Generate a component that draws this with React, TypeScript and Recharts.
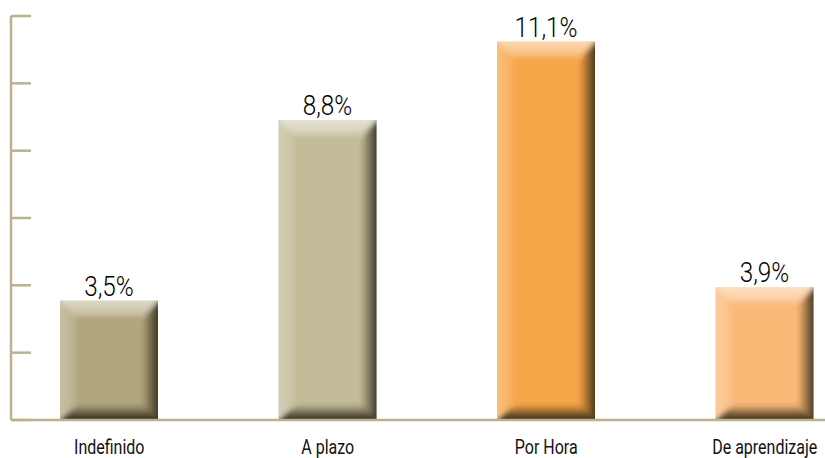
import React from "react"
import { BarChart, Bar, XAxis, YAxis, LabelList } from "recharts"

const categories = ["Indefinido", "A plazo", "Por Hora", "De aprendizaje"]
const values = [3.5, 8.8, 11.1, 3.9]
const barColors = ["#b1a77e", "#c2bc98", "#f8a64a", "#fbb978"]

// unlabelled axis marks, 6 equal steps up to the top of the scale
const yTicks = [0, 1.975, 3.95, 5.925, 7.9, 9.875, 11.85]

const AXIS = "#bab28c"
const FONT = "Roboto, 'Liberation Sans', Arial, sans-serif"

const data = categories.map((name, i) => ({ name, value: values[i], fill: barColors[i] }))

const fmt = (v: number) => v.toFixed(1).replace(".", ",") + "%"

// bar with a soft bevel: light top/left edges, dark right/bottom edges
function BevelBar(props: any) {
  const { x, y, width: w, height: h, payload, index } = props
  if (!h || h <= 0) return null
  const b = 15
  const o = 6
  const top = `${x - o},${y - o} ${x + w + o},${y - o} ${x + w - b},${y + b} ${x + b},${y + b}`
  const left = `${x - o},${y - o} ${x + b},${y + b} ${x + b},${y + h - b} ${x - o},${y + h + o}`
  const right = `${x + w + o},${y - o} ${x + w + o},${y + h + o} ${x + w - b},${y + h - b} ${x + w - b},${y + b}`
  const bottom = `${x - o},${y + h + o} ${x + w + o},${y + h + o} ${x + w - b},${y + h - b} ${x + b},${y + h - b}`
  const clipId = `barClip${index}`
  return (
    <g>
      <clipPath id={clipId}>
        <rect x={x} y={y} width={w} height={h} />
      </clipPath>
      <rect x={x} y={y} width={w} height={h} fill={payload.fill} />
      <g clipPath={`url(#${clipId})`}>
        <g filter="url(#soft)">
          <polygon points={left} fill="url(#gLeft)" />
          <polygon points={top} fill="url(#gTop)" />
          <polygon points={bottom} fill="url(#gBottom)" />
          <polygon points={right} fill="url(#gRight)" />
        </g>
      </g>
    </g>
  )
}

function ValueLabel(props: any) {
  const { x, y, width, value } = props
  return (
    <text
      transform={`translate(${x + width / 2},${y - 5}) scale(0.9,1)`}
      textAnchor="middle"
      fontSize={27}
      fontWeight={300}
      fontFamily={FONT}
      fill="#000"
    >
      {fmt(value)}
    </text>
  )
}

function CategoryTick(props: any) {
  const { x, y, payload } = props
  return (
    <text
      transform={`translate(${x},${y + 34}) scale(0.8,1)`}
      textAnchor="middle"
      fontSize={20}
      fontWeight={400}
      fontFamily={FONT}
      fill="#111"
    >
      {payload.value}
    </text>
  )
}

export default function App() {
  return (
    <div style={{ position: "absolute", left: 0, top: 0, width: 825, height: 458, background: "#fff" }}>
      <BarChart
        width={825}
        height={458}
        data={data}
        margin={{ top: 16, right: 0, bottom: 0, left: 11 }}
        barCategoryGap={0}
      >
        <defs>
          <filter id="soft" x="-20%" y="-20%" width="140%" height="140%">
            <feGaussianBlur stdDeviation={2.5} />
          </filter>
          <linearGradient id="gTop" x1="0" y1="0" x2="0" y2="1">
            <stop offset="0.2" stopColor="#fff" stopOpacity={0.6} />
            <stop offset="1" stopColor="#fff" stopOpacity={0.28} />
          </linearGradient>
          <linearGradient id="gLeft" x1="0" y1="0" x2="1" y2="0">
            <stop offset="0.2" stopColor="#fff" stopOpacity={0.3} />
            <stop offset="1" stopColor="#fff" stopOpacity={0.12} />
          </linearGradient>
          <linearGradient id="gRight" x1="0" y1="0" x2="1" y2="0">
            <stop offset="0" stopColor="#2a2010" stopOpacity={0.05} />
            <stop offset="0.75" stopColor="#2a2010" stopOpacity={0.85} />
            <stop offset="1" stopColor="#2a2010" stopOpacity={0.92} />
          </linearGradient>
          <linearGradient id="gBottom" x1="0" y1="0" x2="0" y2="1">
            <stop offset="0" stopColor="#2a2414" stopOpacity={0.05} />
            <stop offset="0.65" stopColor="#2a2414" stopOpacity={0.88} />
            <stop offset="1" stopColor="#2a2414" stopOpacity={0.92} />
          </linearGradient>
        </defs>
        <XAxis
          dataKey="name"
          height={38}
          padding={{ left: -11, right: -49 }}
          tickSize={0}
          tickMargin={0}
          tick={<CategoryTick />}
          axisLine={{ stroke: AXIS, strokeWidth: 2.5 }}
          interval={0}
        />
        <YAxis
          width={1}
          mirror
          domain={[0, 11.85]}
          ticks={yTicks}
          tickSize={20}
          tickFormatter={() => ""}
          axisLine={{ stroke: AXIS, strokeWidth: 2.5 }}
          tickLine={{ stroke: AXIS, strokeWidth: 2.5 }}
        />
        <Bar dataKey="value" barSize={98} shape={<BevelBar />} isAnimationActive={false}>
          <LabelList dataKey="value" content={<ValueLabel />} />
        </Bar>
      </BarChart>
    </div>
  )
}
